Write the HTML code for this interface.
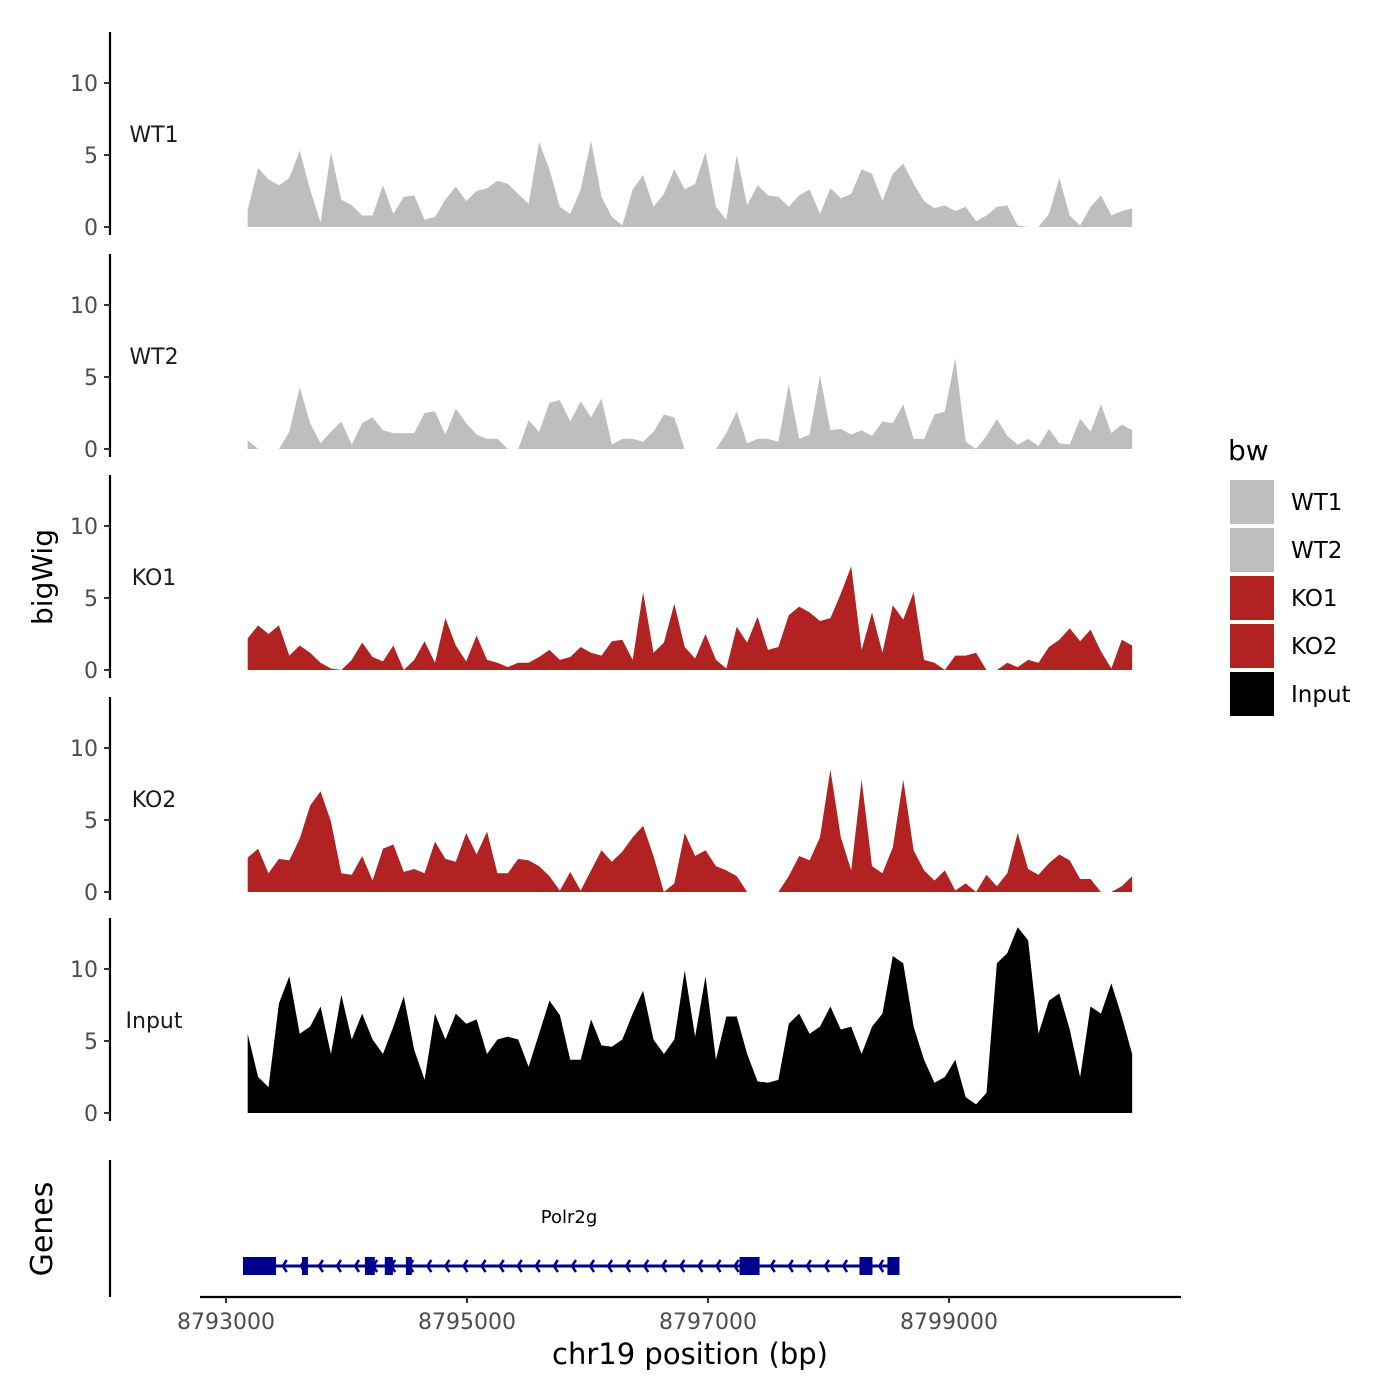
<!DOCTYPE html>
<html><head><meta charset="utf-8">
<style>
body{margin:0;background:#fff;}
svg{display:block;font-family:"DejaVu Sans","Liberation Sans",sans-serif;}
</style></head>
<body>
<svg id="chart" width="1400" height="1400" viewBox="0 0 1400 1400" xmlns="http://www.w3.org/2000/svg">
<rect width="1400" height="1400" fill="#fff"/>
<g id="tracks"></g>
<g id="genes"></g>
<text transform="translate(52,577) rotate(-90)" text-anchor="middle" font-size="28" fill="#000">bigWig</text>
<text transform="translate(52,1229) rotate(-90)" text-anchor="middle" font-size="30" fill="#000">Genes</text>
<text x="690" y="1364" text-anchor="middle" font-size="29" fill="#000">chr19 position (bp)</text>
<g id="legend">
<text x="1228" y="460" font-size="28" fill="#000">bw</text>
</g>
</svg>
<script>
const trackNames = ["WT1","WT2","KO1","KO2","Input"];
const trackColors = ["#bebebe","#bebebe","#b22222","#b22222","#000000"];
const posStart = 8793180;
const posEnd = 8800520;
const wt1 = [1.2,4.1,3.3,2.9,3.4,5.3,2.6,0.3,5.2,1.9,1.5,0.8,0.8,2.9,0.9,2.1,2.2,0.5,0.7,1.9,2.8,1.8,2.5,2.7,3.2,3.0,2.3,1.6,5.9,4.0,1.4,0.9,2.6,6.0,2.1,0.7,0.1,2.6,3.6,1.4,2.3,4.0,2.6,3.0,5.2,1.4,0.5,5.0,1.5,2.9,2.2,2.1,1.4,2.2,2.6,0.9,2.7,2.0,2.3,4.0,3.7,1.8,3.7,4.4,3.0,1.8,1.3,1.5,1.1,1.4,0.4,0.8,1.4,1.5,0.1,0,0,0.9,3.4,0.8,0.1,1.4,2.2,0.8,1.1,1.3];
const wt2 = [0.6,0,0,0,1.2,4.3,1.8,0.4,1.2,1.9,0.3,1.8,2.2,1.3,1.1,1.1,1.1,2.5,2.6,1.0,2.8,1.8,1.0,0.7,0.7,0,0,2.0,1.2,3.2,3.4,1.9,3.3,2.2,3.5,0.3,0.7,0.7,0.5,1.2,2.4,2.2,0,0,0,0,1.1,2.6,0.4,0.7,0.7,0.5,4.5,0.7,1.0,5.1,1.3,1.4,1.0,1.3,0.9,1.9,1.8,3.1,0.7,0.7,2.4,2.6,6.3,0.5,0,0.9,2.1,0.9,0.3,0.7,0.2,1.4,0.4,0.3,2.1,1.2,3.1,1.1,1.7,1.3];
const ko1 = [2.2,3.1,2.5,3.1,1.0,1.7,1.2,0.5,0.1,0,0.7,1.9,0.9,0.6,1.7,0,0.7,2.0,0.5,3.6,1.7,0.6,2.4,0.7,0.5,0.2,0.5,0.5,0.9,1.4,0.7,0.9,1.6,1.2,1.0,2.0,2.1,0.7,5.4,1.2,1.9,4.6,1.6,0.8,2.5,0.7,0.1,3.0,1.9,3.7,1.4,1.6,3.8,4.4,4.0,3.4,3.6,5.3,7.2,1.4,4.0,1.2,4.5,3.5,5.4,0.7,0.5,0,1.0,1.0,1.2,0,0,0.5,0.2,0.7,0.5,1.6,2.1,2.9,2.0,2.8,1.3,0.1,2.1,1.7];
const ko2 = [2.4,3.0,1.3,2.3,2.2,3.7,6.0,7.0,4.9,1.3,1.2,2.5,0.8,3.0,3.3,1.4,1.6,1.3,3.5,2.3,2.1,4.1,2.6,4.2,1.3,1.3,2.3,2.2,1.8,1.1,0.1,1.4,0.1,1.5,2.9,2.1,2.8,3.8,4.6,2.5,0,0.6,4.1,2.5,2.9,1.8,1.5,1.1,0,0,0,0,1.1,2.5,2.2,3.8,8.5,3.8,1.5,7.8,1.8,1.3,3.1,7.8,2.9,1.5,0.8,1.5,0.1,0.6,0,1.2,0.4,1.3,4.1,1.6,1.2,2.0,2.6,2.2,0.9,0.9,0,0,0.4,1.1];
const inputSig = [5.5,2.5,1.8,7.6,9.5,5.5,6.0,7.4,4.1,8.2,5.1,6.9,5.1,4.1,6.0,8.1,4.4,2.3,6.9,5.1,6.9,6.2,6.5,4.1,5.1,5.3,5.1,3.2,5.5,7.8,6.8,3.7,3.7,6.5,4.7,4.6,5.1,6.9,8.5,5.1,4.1,5.1,9.9,5.3,9.5,3.7,6.7,6.7,4.1,2.2,2.1,2.3,6.2,6.9,5.5,6.0,7.4,5.8,6.0,4.1,6.0,6.9,10.9,10.4,6.0,3.7,2.1,2.5,3.7,1.1,0.6,1.4,10.4,11.1,12.9,12.0,5.5,7.8,8.3,5.8,2.5,7.4,6.9,9.0,6.7,4.1];
const seriesValues = [wt1, wt2, ko1, ko2, inputSig];
const yTicks = [0,5,10];
const xTicks = [8793000,8795000,8797000,8799000];
const xTickLabels = ["8793000","8795000","8797000","8799000"];
const geneName = "Polr2g";
const geneStart = 8793141;
const geneEnd = 8798560;
const exonStarts = [8793141,8793630,8794153,8794318,8794493,8797262,8798257,8798489];
const exonEnds   = [8793415,8793680,8794235,8794385,8794542,8797428,8798365,8798589];

const NS="http://www.w3.org/2000/svg";
function xScale(bp){ return 226 + (bp-8793000)*(708-226)/4000; }
const zeroYs=[227,449,670,892,1113];
const unitPx=14.4;
function yScale(track,v){ return zeroYs[track]-v*unitPx; }
function mk(tag,attrs,parent){const e=document.createElementNS(NS,tag);for(const k in attrs)e.setAttribute(k,attrs[k]);parent.appendChild(e);return e;}

const tracks=document.getElementById('tracks');
seriesValues.forEach((vals,t)=>{
  const g=mk('g',{},tracks);
  
  
  const n=vals.length, step=(posEnd-posStart)/(n-1);
  let d='M'+xScale(posStart)+','+yScale(t,0);
  vals.forEach((v,i)=>{ d+=' L'+xScale(posStart+i*step).toFixed(2)+','+yScale(t,v).toFixed(2); });
  d+=' L'+xScale(posEnd)+','+yScale(t,0)+' Z';
  const p=mk('path',{d:d,fill:trackColors[t]},g);
  
  
  const ax=mk('line',{x1:110,x2:110,y1:zeroYs[t]-195,y2:zeroYs[t]+8,stroke:'#000','stroke-width':2.2},g);
  
  
  yTicks.forEach(tv=>{
    const y=yScale(t,tv);
    const tk=mk('line',{x1:104,x2:110,y1:y,y2:y,stroke:'#333','stroke-width':2},g);
    
    
    const tl=mk('text',{x:98,y:y+8,'text-anchor':'end','font-size':22,fill:'#4d4d4d'},g);
    
    
    tl.textContent=tv;
  });
  const lb=mk('text',{x:154,y:zeroYs[t]-85,'text-anchor':'middle','font-size':22,fill:'#1a1a1a'},g);
  
  
  lb.textContent=trackNames[t];
});

const gg=document.getElementById('genes');
const gax=mk('line',{x1:110,x2:110,y1:1160,y2:1297,stroke:'#000','stroke-width':2.2},gg);


const xax=mk('line',{x1:200,x2:1181,y1:1297,y2:1297,stroke:'#000','stroke-width':2.2},gg);


xTicks.forEach((bp,i)=>{
  const x=xScale(bp);
  const tk=mk('line',{x1:x,x2:x,y1:1297,y2:1303,stroke:'#333','stroke-width':2},gg);
  
  
  const tl=mk('text',{x:x,y:1329,'text-anchor':'middle','font-size':22,fill:'#4d4d4d'},gg);
  
  
  tl.textContent=xTickLabels[i];
});
const gl=mk('line',{x1:xScale(geneStart),x2:xScale(geneEnd),y1:1266,y2:1266,stroke:'#00008b','stroke-width':3},gg);


for(let bp=geneStart+330; bp<geneEnd-60; bp+=150){
  const x=xScale(bp);
  const ch=mk('polyline',{points:(x+4)+','+1260+' '+x+','+1266+' '+(x+4)+','+1272,fill:'none',stroke:'#00008b','stroke-width':2.5},gg);
  
  
}
exonStarts.forEach((s,i)=>{
  const x1=xScale(s), x2=xScale(exonEnds[i]);
  const r=mk('rect',{x:x1,y:1257,width:x2-x1,height:18,fill:'#00008b'},gg);
  
  
});
const gn=mk('text',{x:569,y:1223,'text-anchor':'middle','font-size':18,fill:'#000'},gg);


gn.textContent=geneName;

const lg=document.getElementById('legend');
trackNames.forEach((nm,i)=>{
  const y=480+i*48;
  const r=mk('rect',{x:1230,y:y,width:44,height:44,fill:trackColors[i]},lg);
  
  
  const t=mk('text',{x:1291,y:y+30,'font-size':23,fill:'#000'},lg);
  
  
  t.textContent=nm;
});
</script>
</body></html>
